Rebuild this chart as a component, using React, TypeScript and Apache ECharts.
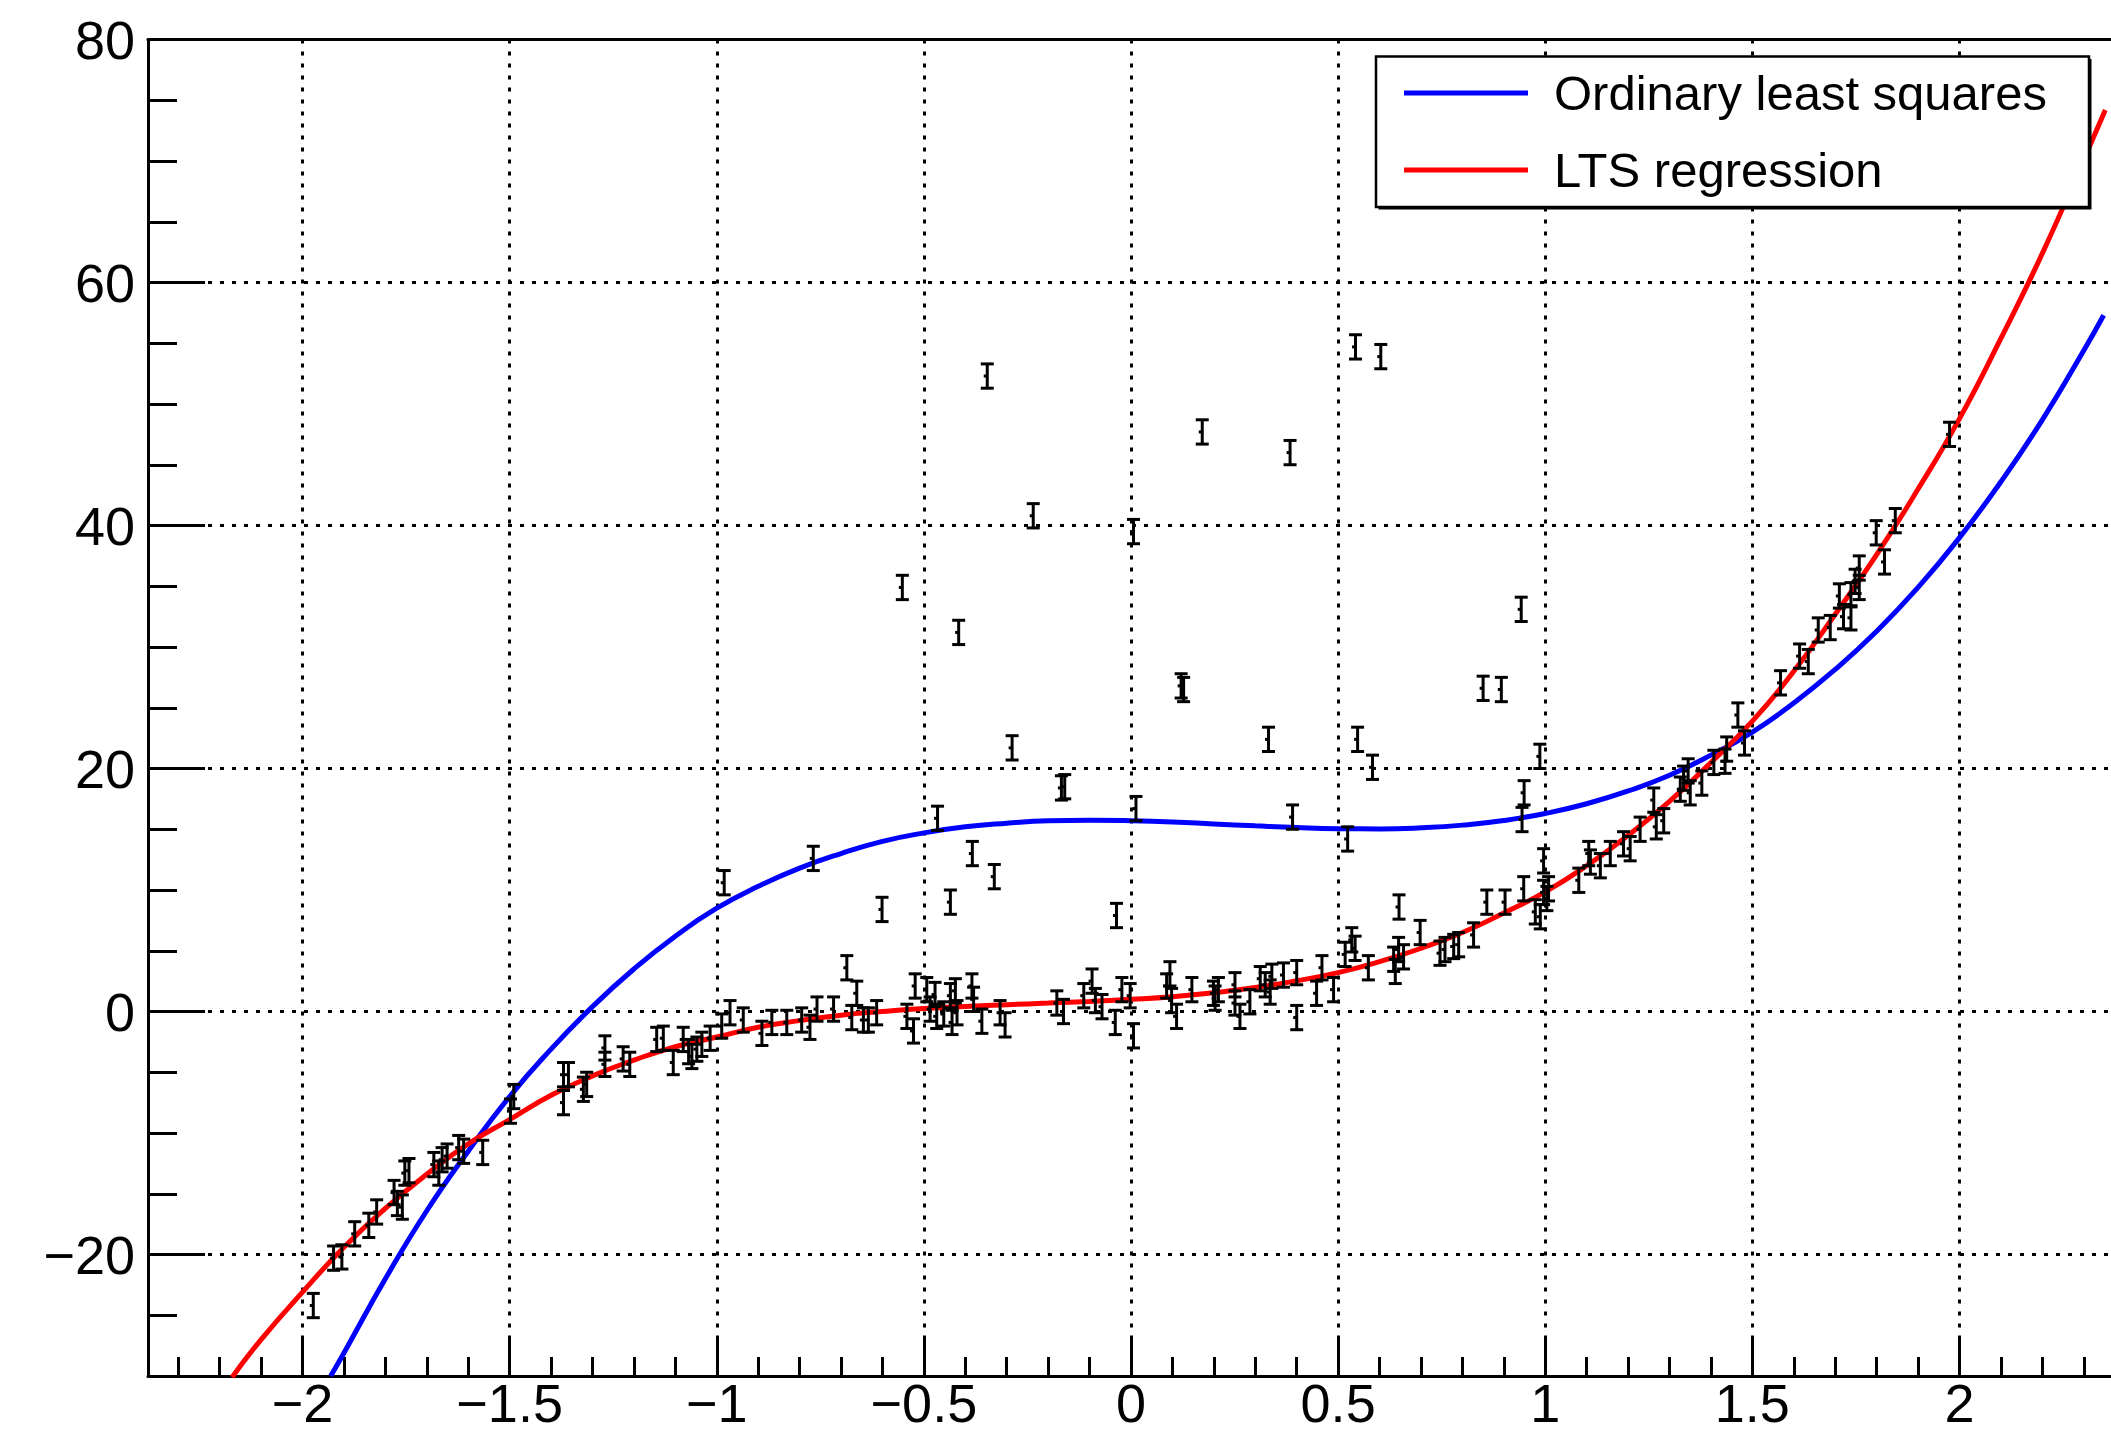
import React, { useEffect, useRef } from "react";
import * as echarts from "echarts";

// ---- axis ranges and ticks ----
const X_MIN = -2.373;
const X_MAX = 2.373;
const Y_MIN = -30;
const Y_MAX = 80;
const xMajorTicks = [-2, -1.5, -1, -0.5, 0, 0.5, 1, 1.5, 2];
const xMinorTicks = [
  -2.3, -2.2, -2.1, -1.9, -1.8, -1.7, -1.6, -1.4, -1.3, -1.2, -1.1, -0.9, -0.8, -0.7, -0.6,
  -0.4, -0.3, -0.2, -0.1, 0.1, 0.2, 0.3, 0.4, 0.6, 0.7, 0.8, 0.9, 1.1, 1.2, 1.3, 1.4, 1.6,
  1.7, 1.8, 1.9, 2.1, 2.2, 2.3,
];
const yMajorTicks = [-20, 0, 20, 40, 60, 80];
const yMinorTicks = [-25, -15, -10, -5, 5, 10, 15, 25, 30, 35, 45, 50, 55, 65, 70, 75];

// ---- measured points (with symmetric y errors) ----
const ERROR_Y = 1;
const pointX = [
  -1.974, -1.925, -1.905, -1.874, -1.84, -1.821, -1.779, -1.771, -1.759, -1.753, -1.743, -1.683,
  -1.671, -1.663, -1.651, -1.623, -1.611, -1.565, -1.498, -1.49, -1.37, -1.37, -1.358, -1.322,
  -1.314, -1.27, -1.27, -1.226, -1.21, -1.145, -1.129, -1.105, -1.081, -1.068, -1.06, -1.048,
  -1.036, -1.016, -0.988, -0.982, -0.968, -0.936, -0.891, -0.867, -0.831, -0.795, -0.775,
  -0.767, -0.758, -0.718, -0.686, -0.674, -0.662, -0.646, -0.634, -0.614, -0.601, -0.552,
  -0.541, -0.525, -0.521, -0.493, -0.485, -0.473, -0.469, -0.467, -0.452, -0.436, -0.436,
  -0.432, -0.424, -0.42, -0.416, -0.384, -0.383, -0.38, -0.36, -0.347, -0.33, -0.316, -0.304,
  -0.287, -0.236, -0.179, -0.168, -0.163, -0.16, -0.114, -0.094, -0.086, -0.07, -0.038, -0.035,
  -0.022, -0.002, 0.006, 0.006, 0.012, 0.086, 0.094, 0.098, 0.11, 0.121, 0.127, 0.147, 0.172,
  0.199, 0.203, 0.211, 0.251, 0.251, 0.263, 0.287, 0.312, 0.324, 0.332, 0.336, 0.34, 0.368,
  0.384, 0.39, 0.4, 0.4, 0.448, 0.461, 0.489, 0.517, 0.523, 0.533, 0.541, 0.542, 0.547, 0.573,
  0.583, 0.603, 0.634, 0.638, 0.646, 0.647, 0.658, 0.698, 0.746, 0.758, 0.779, 0.791, 0.827,
  0.85, 0.859, 0.894, 0.903, 0.942, 0.944, 0.948, 0.949, 0.976, 0.987, 0.988, 0.996, 0.996,
  1.004, 1.008, 1.081, 1.105, 1.109, 1.133, 1.157, 1.189, 1.205, 1.229, 1.262, 1.268, 1.286,
  1.326, 1.334, 1.345, 1.35, 1.378, 1.407, 1.434, 1.438, 1.465, 1.481, 1.568, 1.614, 1.635,
  1.659, 1.688, 1.71, 1.72, 1.738, 1.738, 1.748, 1.758, 1.758, 1.799, 1.819, 1.845, 1.976,
];
const pointY = [
  -24.2, -20.3, -20.2, -18.3, -17.6, -16.5, -14.9, -15.8, -16.1, -13.3, -13.1, -12.6,
  -13.3, -12.2, -11.9, -11.2, -11.5, -11.6, -8.2, -7.0, -7.5, -5.2, -5.2, -6.4,
  -6.0, -3.0, -4.35, -3.9, -4.35, -2.3, -2.2, -4.2, -2.3, -3.3, -3.7, -3.1,
  -2.7, -2.2, -1.2, 10.6, -0.1, -0.7, -1.8, -0.9, -0.9, -0.7, -1.3,
  12.6, 0.2, 0.2, 3.6, -0.5, 1.5, -0.7, -0.7, -0.1, 8.4, 34.9,
  -0.4, -1.6, 2.1, 1.8, 0.2, 1.4, -0.4, 15.9, -0.2, 1.3, 9.0,
  -0.9, 1.7, -0.1, 31.2, 2.1, 13.0, 1.0, -0.8, 52.3, 11.1, -0.1, -1.1,
  21.7, 40.8, 0.7, 18.4, 0.0, 18.5, 1.3, 2.5, 0.9, 0.4, -0.9, 7.9,
  1.8, 1.3, -2.0, 39.5, 16.7, 2.1, 3.1, 0.9, -0.4, 26.8, 26.5, 1.8, 47.7,
  1.5, 1.1, 1.8, 2.2, 0.7, -0.4, 0.8, 2.7, 2.2, 22.4, 1.6, 2.9, 3.0,
  46.0, 16.0, 3.2, -0.5, 1.5, 3.6, 1.8, 4.7, 14.2, 5.9, 5.2, 54.7, 22.4, 3.6,
  20.1, 53.9, 4.3, 3.3, 5.1, 8.6, 4.5, 6.5, 4.8, 5.1, 5.35, 5.5, 6.3,
  26.6, 9.0, 26.5, 9.0, 33.1, 15.8, 10.1, 18.0, 8.2, 21.0, 7.8, 12.4, 9.8,
  9.3, 10.1, 10.8, 13.0, 12.3, 12.0, 13.0, 13.8, 13.4, 15.0, 17.4, 15.2, 15.7,
  18.3, 19.2, 19.8, 18.0, 18.8, 20.5, 20.6, 21.6, 24.4, 22.1, 27.05, 29.25, 28.8,
  31.4, 31.6, 34.2, 32.5, 32.4, 34.3, 35.4, 34.9, 36.5, 39.4, 37.0, 40.4, 47.5,
];

// ---- fitted curves at steps of 0.1 ----
const olsX = [
  -1.932, -1.9, -1.8, -1.7, -1.6, -1.5, -1.4, -1.3, -1.2, -1.1, -1.0, -0.9, -0.8, -0.7, -0.6,
  -0.5, -0.4, -0.3, -0.2, -0.1, 0, 0.1, 0.2, 0.3, 0.4, 0.5, 0.6, 0.7, 0.8, 0.9, 1.0, 1.1,
  1.2, 1.3, 1.4, 1.5, 1.6, 1.7, 1.8, 1.9, 2.0, 2.1, 2.2, 2.3, 2.348,
];
const olsY = [
  -30, -28.1, -22.0, -16.4, -11.5, -7.0, -3.1, 0.4, 3.5, 6.2, 8.5, 10.3, 11.8, 13.0, 14.0,
  14.7, 15.2, 15.5, 15.7, 15.74, 15.7, 15.6, 15.44, 15.28, 15.14, 15.05, 15.03, 15.12, 15.34,
  15.72, 16.3, 17.1, 18.15, 19.45, 21.1, 23.0, 25.4, 28.15, 31.3, 34.9, 39.0, 43.6, 48.7,
  54.4, 57.3,
];
const ltsX = [
  -2.17, -2.1, -2.0, -1.9, -1.8, -1.7, -1.6, -1.5, -1.4, -1.3, -1.2, -1.1, -1.0, -0.9, -0.8,
  -0.7, -0.6, -0.5, -0.4, -0.3, -0.2, -0.1, 0, 0.1, 0.2, 0.3, 0.4, 0.5, 0.6, 0.7, 0.8, 0.9,
  1.0, 1.1, 1.2, 1.3, 1.4, 1.5, 1.6, 1.7, 1.8, 1.9, 2.0, 2.1, 2.2, 2.3, 2.352,
];
const ltsY = [
  -30.1, -27.0, -23.1, -19.4, -16.2, -13.4, -10.9, -8.9, -6.9, -5.3, -4.0, -2.9, -2.1, -1.3,
  -0.75, -0.3, 0.0, 0.25, 0.42, 0.56, 0.69, 0.83, 1.0, 1.22, 1.55, 1.97, 2.53, 3.2, 4.1, 5.2,
  6.5, 8.1, 9.85, 12.0, 14.5, 17.3, 20.5, 23.9, 28.0, 32.7, 37.6, 43.0, 48.8, 55.4, 62.4,
  70.1, 74.2,
];

const legendLabels = ["Ordinary least squares", "LTS regression"];
const OLS_COLOR = "#0000ff";
const LTS_COLOR = "#ff0000";
const FONT = "'Liberation Sans', Arial, Helvetica, sans-serif";

const fmt = (v: number) => (v < 0 ? "\u2212" + String(-v) : String(v));

export default function App() {
  const ref = useRef<HTMLDivElement>(null);

  useEffect(() => {
    if (!ref.current) return;
    const chart = echarts.init(ref.current, undefined, { renderer: "svg" });

    const axisLineStyle = { color: "#000", width: 3 };
    const gridLine = { show: true, lineStyle: { color: "#000", width: 3, type: [4, 8] as any } };

    const option: any = {
      animation: false,
      backgroundColor: "#fff",
      grid: {
        left: 148,
        top: 39.5,
        width: 1966,
        height: 1336.5,
        containLabel: false,
        outerBoundsMode: "none",
      },
      xAxis: [
        {
          type: "value",
          min: X_MIN,
          max: X_MAX,
          position: "bottom",
          axisLine: { show: true, onZero: false, lineStyle: axisLineStyle },
          axisTick: { show: true, inside: true, length: 38, lineStyle: axisLineStyle, customValues: xMajorTicks },
          axisLabel: {
            show: true,
            customValues: xMajorTicks,
            formatter: fmt,
            color: "#000",
            fontSize: 54,
            lineHeight: 40,
            fontFamily: FONT,
            margin: 7,
          },
          splitLine: gridLine,
        },
        {
          type: "value",
          min: X_MIN,
          max: X_MAX,
          position: "bottom",
          axisLine: { show: false, onZero: false },
          axisTick: { show: true, inside: true, length: 19, lineStyle: axisLineStyle, customValues: xMinorTicks },
          axisLabel: { show: false },
          splitLine: { show: false },
        },
        {
          type: "value",
          min: X_MIN,
          max: X_MAX,
          position: "top",
          axisLine: { show: true, onZero: false, lineStyle: axisLineStyle },
          axisTick: { show: false },
          axisLabel: { show: false },
          splitLine: { show: false },
        },
      ],
      yAxis: [
        {
          type: "value",
          min: Y_MIN,
          max: Y_MAX,
          position: "left",
          axisLine: { show: true, onZero: false, lineStyle: axisLineStyle },
          axisTick: { show: true, inside: true, length: 57, lineStyle: axisLineStyle, customValues: yMajorTicks },
          axisLabel: {
            show: true,
            customValues: yMajorTicks,
            formatter: fmt,
            color: "#000",
            fontSize: 54,
            fontFamily: FONT,
            margin: 13,
          },
          splitLine: gridLine,
        },
        {
          type: "value",
          min: Y_MIN,
          max: Y_MAX,
          position: "left",
          axisLine: { show: false, onZero: false },
          axisTick: { show: true, inside: true, length: 29, lineStyle: axisLineStyle, customValues: yMinorTicks },
          axisLabel: { show: false },
          splitLine: { show: false },
        },
      ],
      series: [
        {
          name: legendLabels[0],
          type: "line",
          xAxisIndex: 0,
          yAxisIndex: 0,
          data: olsX.map((x, i) => [x, olsY[i]]),
          smooth: 0.5,
          symbol: "none",
          lineStyle: { color: OLS_COLOR, width: 5 },
          clip: true,
          z: 3,
        },
        {
          name: legendLabels[1],
          type: "line",
          xAxisIndex: 0,
          yAxisIndex: 0,
          data: ltsX.map((x, i) => [x, ltsY[i]]),
          smooth: 0.5,
          symbol: "none",
          lineStyle: { color: LTS_COLOR, width: 5 },
          clip: true,
          z: 3,
        },
        {
          name: "data",
          type: "custom",
          xAxisIndex: 0,
          yAxisIndex: 0,
          encode: { x: 0, y: 1 },
          data: pointX.map((x, i) => [x, pointY[i], ERROR_Y]),
          clip: true,
          z: 5,
          renderItem: (params: any, api: any) => {
            const x = api.value(0);
            const y = api.value(1);
            const e = api.value(2);
            const top = api.coord([x, y + e]);
            const bot = api.coord([x, y - e]);
            const c = api.coord([x, y]);
            const hw = 6.5;
            const style = { stroke: "#000", lineWidth: 3, fill: "none" };
            return {
              type: "group",
              children: [
                { type: "line", shape: { x1: top[0], y1: top[1], x2: bot[0], y2: bot[1] }, style },
                { type: "line", shape: { x1: top[0] - hw, y1: top[1], x2: top[0] + hw, y2: top[1] }, style },
                { type: "line", shape: { x1: bot[0] - hw, y1: bot[1], x2: bot[0] + hw, y2: bot[1] }, style },
                { type: "rect", shape: { x: c[0] - 3.5, y: c[1] - 1.5, width: 3, height: 3 }, style: { fill: "#000" } },
              ],
            };
          },
        },
      ],
      graphic: [
        {
          type: "rect",
          z: 100,
          shape: { x: 1378.5, y: 59, width: 713, height: 150.5 },
          style: { fill: "#000" },
        },
        {
          type: "rect",
          z: 101,
          shape: { x: 1376, y: 56.5, width: 713, height: 150.5 },
          style: { fill: "#fff", stroke: "#000", lineWidth: 2.5 },
        },
        {
          type: "line",
          z: 102,
          shape: { x1: 1404, y1: 93, x2: 1528, y2: 93 },
          style: { stroke: OLS_COLOR, lineWidth: 5 },
        },
        {
          type: "line",
          z: 102,
          shape: { x1: 1404, y1: 170, x2: 1528, y2: 170 },
          style: { stroke: LTS_COLOR, lineWidth: 5 },
        },
        {
          type: "text",
          z: 102,
          x: 1554,
          y: 93,
          style: {
            text: legendLabels[0],
            fontSize: 49,
            fontFamily: FONT,
            fill: "#000",
            align: "left",
            verticalAlign: "middle",
          },
        },
        {
          type: "text",
          z: 102,
          x: 1554,
          y: 170,
          style: {
            text: legendLabels[1],
            fontSize: 49,
            fontFamily: FONT,
            fill: "#000",
            align: "left",
            verticalAlign: "middle",
          },
        },
      ],
    };

    chart.setOption(option);
    return () => chart.dispose();
  }, []);

  return (
    <div
      ref={ref}
      style={{ position: "absolute", left: 0, top: 0, width: 2111, height: 1435, background: "#fff" }}
    />
  );
}
